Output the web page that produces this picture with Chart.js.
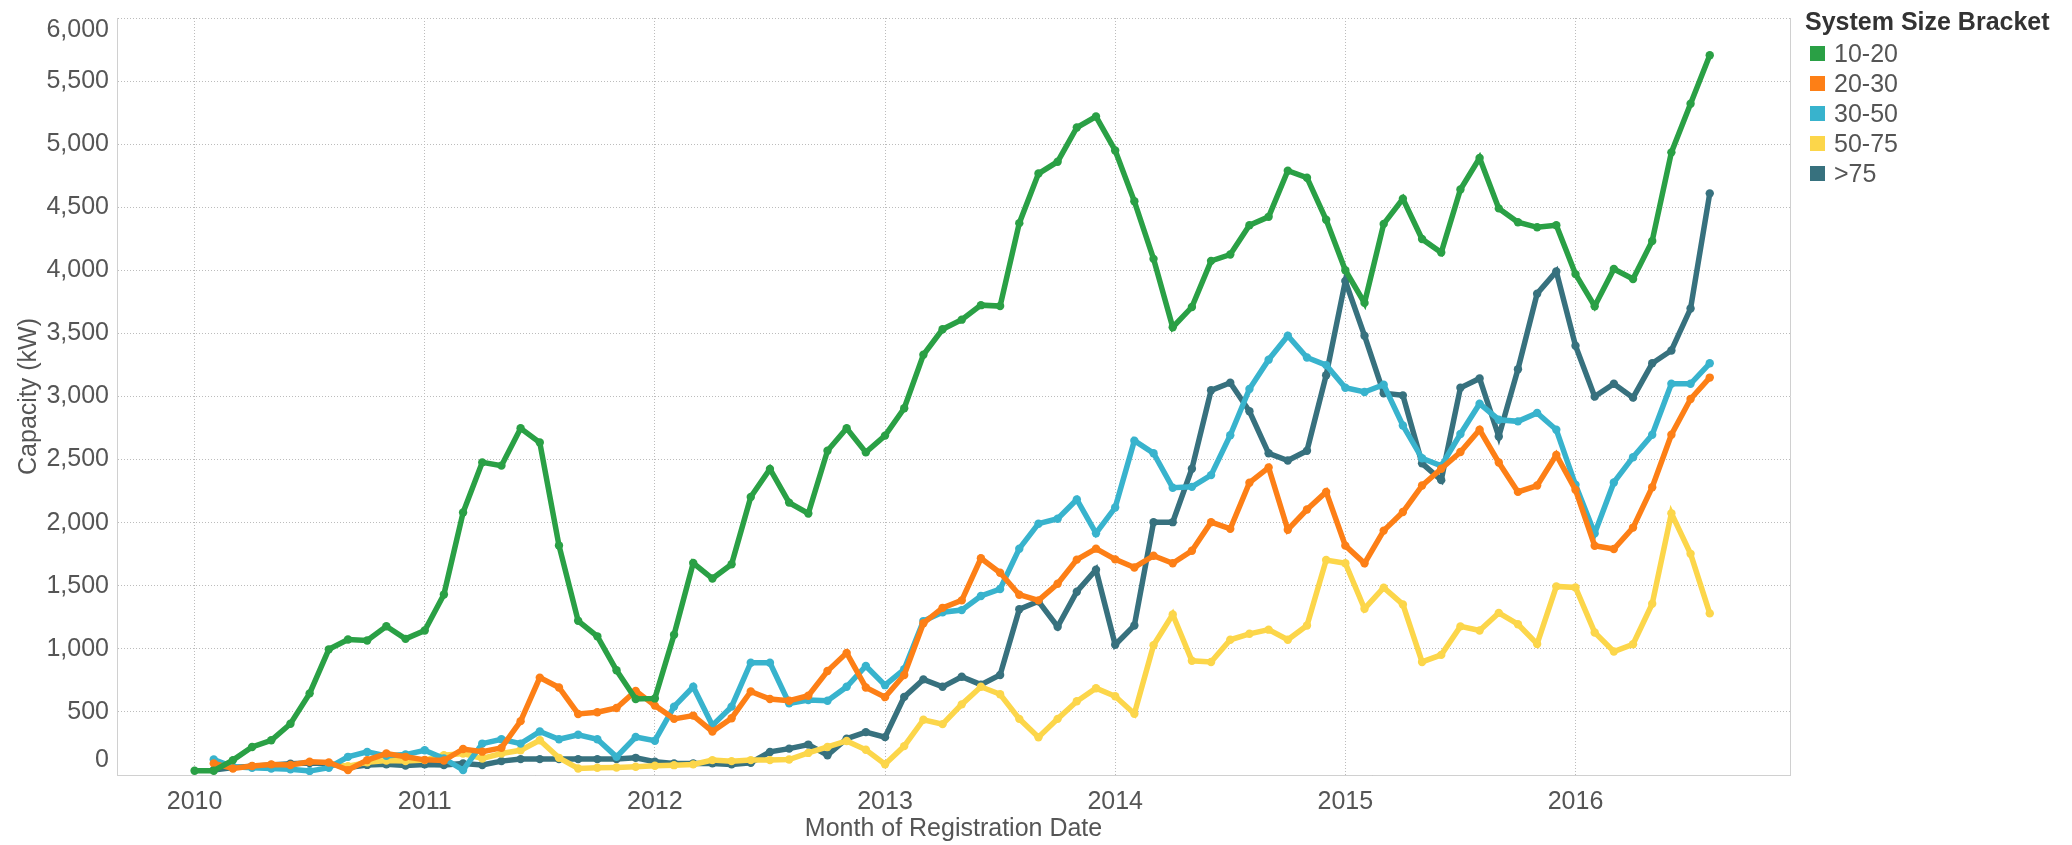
<!DOCTYPE html>
<html>
<head>
<meta charset="utf-8">
<title>Capacity by System Size Bracket</title>
<script src="https://cdn.jsdelivr.net/npm/chart.js@4.4.1/dist/chart.umd.min.js"></script>
<style>
    html, body { margin: 0; padding: 0; background: #fff; }
    #wrap { position: relative; width: 2072px; height: 845px; }
    #legend { position: absolute; left: 1805px; top: 6px; font-family: "Liberation Sans", Arial, sans-serif; color: #555; }
    #legend .title { font-weight: bold; font-size: 25px; line-height: 30px; color: #333; margin-bottom: 2px; }
    #legend .item { font-size: 25px; line-height: 30px; height: 30px; display: flex; align-items: center; }
    #legend .box { width: 15px; height: 15px; margin: 0 9px 0 5px; }
</style>
</head>
<body>
<div id="wrap">
    <canvas id="capacityChart" width="2072" height="845"></canvas>
    <div id="legend"></div>
</div>
<script>
// month of registration date, Jan 2010 .. Aug 2016
let months = [];
for (let y = 2010; y <= 2016; y++) {
    for (let m = 1; m <= 12; m++) {
        if (y === 2016 && m > 8) break;
        months.push(y + "-" + (m < 10 ? "0" + m : m));
    }
}
let yearTicks = [2010, 2011, 2012, 2013, 2014, 2015, 2016];
let brackets = ["10-20", "20-30", "30-50", "50-75", ">75"];

// capacity (kW) per month
let cap10to20 = [
    34, 34, 118, 222, 275, 406, 647, 996, 1074, 1066, 1179, 1079,
    1145, 1431, 2080, 2478, 2452, 2748, 2635, 1819, 1222, 1099, 830, 602,
    607, 1112, 1680, 1557, 1670, 2203, 2426, 2159, 2073, 2570, 2748, 2557,
    2690, 2907, 3331, 3533, 3609, 3724, 3717, 4374, 4767, 4861, 5132, 5219,
    4950, 4547, 4091, 3549, 3709, 4075, 4125, 4358, 4424, 4790, 4734, 4401,
    4001, 3742, 4368, 4567, 4248, 4141, 4641, 4890, 4491, 4381, 4341, 4358,
    3970, 3716, 4010, 3931, 4233, 4935, 5320, 5705
];
let cap20to30 = [
    null, 92, 52, 71, 84, 79, 105, 99, 39, 118, 170, 144,
    120, 115, 206, 185, 215, 427, 772, 694, 484, 497, 531, 667,
    550, 445, 471, 345, 450, 662, 602, 589, 628, 824, 968, 694,
    617, 793, 1203, 1325, 1384, 1718, 1603, 1429, 1384, 1516, 1707, 1794,
    1709, 1645, 1738, 1678, 1778, 2004, 1951, 2317, 2437, 1944, 2104, 2244,
    1818, 1678, 1937, 2084, 2294, 2427, 2560, 2736, 2477, 2244, 2294, 2537,
    2260, 1817, 1791, 1961, 2281, 2697, 2980, 3150
];
let cap30to50 = [
    null, 123, 65, 58, 52, 45, 31, 58, 144, 183, 152, 162,
    196, 131, 39, 249, 283, 249, 345, 283, 319, 283, 144, 301,
    272, 542, 699, 393, 542, 890, 890, 568, 594, 589, 699, 864,
    712, 838, 1220, 1290, 1307, 1419, 1474, 1794, 1992, 2031, 2184, 1916,
    2120, 2650, 2550, 2277, 2284, 2377, 2693, 3059, 3292, 3482, 3309, 3249,
    3069, 3036, 3093, 2770, 2510, 2450, 2703, 2943, 2816, 2803, 2870, 2736,
    2300, 1915, 2319, 2519, 2697, 3101, 3101, 3263
];
let cap50to75 = [
    null, null, null, null, null, null, null, 90, 70, 100, 115, 110,
    118, 157, 170, 131, 170, 196, 275, 136, 52, 58, 60, 65,
    73, 78, 84, 118, 110, 118, 118, 123, 175, 222, 270, 200,
    85, 229, 438, 403, 560, 699, 640, 445, 299, 445, 584, 688,
    624, 486, 1029, 1272, 905, 896, 1072, 1119, 1152, 1072, 1185, 1704,
    1678, 1318, 1485, 1352, 896, 952, 1178, 1145, 1285, 1195, 1039, 1495,
    1486, 1130, 979, 1036, 1357, 2074, 1753, 1281
];
let capOver75 = [
    null, 40, 60, 70, 80, 90, 95, 90, 60, 80, 85, 75,
    84, 79, 92, 79, 110, 126, 126, 126, 126, 126, 126, 136,
    105, 92, 92, 92, 84, 97, 183, 209, 241, 157, 288, 340,
    300, 619, 758, 699, 779, 716, 793, 1314, 1377, 1175, 1453, 1627,
    1032, 1185, 2004, 2004, 2427, 3049, 3109, 2883, 2550, 2493, 2570, 3169,
    3915, 3482, 3026, 3009, 2470, 2337, 3069, 3143, 2683, 3216, 3815, 3991,
    3402, 2999, 3101, 2991, 3263, 3365, 3697, 4610
];

let colors = ["#2aa045", "#fd7f16", "#38b3cd", "#fcd64a", "#37717e"];
let series = [cap10to20, cap20to30, cap30to50, cap50to75, capOver75];
let fontFamily = '"Liberation Sans", Arial, sans-serif';
let gridColor = "#bcbcbc";
let frameColor = "#d0d0d0";

// month string -> position on a continuous year axis
function monthPos(label) {
    let parts = label.split("-");
    return Number(parts[0]) + (Number(parts[1]) - 1) / 12;
}

let datasets = series.map((values, i) => {
    return {
        label: brackets[i],
        data: months.map((m, j) => ({ x: monthPos(m), y: values[j] })),
        borderColor: colors[i],
        backgroundColor: colors[i],
        pointBackgroundColor: colors[i],
        borderWidth: 5.5,
        pointRadius: 4.2,
        pointBorderWidth: 0,
        pointHoverRadius: 0,
        tension: 0,
        fill: false
    };
});

// right edge of the plot frame, and the end labels of the value axis pulled inside
let plotFrame = {
    id: "plotFrame",
    beforeDraw(chart) {
        let s = chart.scales.y;
        if (!s._labelItems && s._computeLabelItems) {
            s._labelItems = s._computeLabelItems(chart.chartArea);
        }
        let items = s._labelItems || [];
        if (items.length) {
            items[0].options.translation[1] -= 15;
            items[items.length - 1].options.translation[1] += 12;
        }
    },
    beforeDatasetsDraw(chart) {
        let a = chart.chartArea;
        let ctx = chart.ctx;
        ctx.save();
        ctx.strokeStyle = frameColor;
        ctx.lineWidth = 1;
        ctx.beginPath();
        ctx.moveTo(Math.round(a.right) + 0.5, a.top);
        ctx.lineTo(Math.round(a.right) + 0.5, a.bottom);
        ctx.stroke();
        ctx.restore();
    }
};

Chart.defaults.font.family = fontFamily;

let ctx = document.getElementById("capacityChart").getContext("2d");
new Chart(ctx, {
    type: "line",
    data: { datasets: datasets },
    plugins: [plotFrame],
    options: {
        responsive: false,
        animation: false,
        layout: { padding: { top: 10, right: 282, left: 0, bottom: 0 } },
        plugins: {
            legend: { display: false },
            tooltip: { enabled: false }
        },
        scales: {
            x: {
                type: "linear",
                min: 2009.663,
                max: 2016.932,
                afterBuildTicks: (scale) => {
                    scale.ticks = yearTicks.map((v) => ({ value: v }));
                },
                afterFit: (scale) => { scale.height = 70; },
                ticks: {
                    callback: (v) => String(v),
                    color: "#555",
                    font: { size: 25 },
                    padding: 12,
                    maxRotation: 0,
                    autoSkip: false
                },
                grid: { color: gridColor, lineWidth: 1, drawTicks: false },
                border: { color: frameColor, dash: [1, 2] },
                title: {
                    display: true,
                    text: "Month of Registration Date",
                    color: "#555",
                    font: { size: 25 },
                    padding: { top: 0, bottom: 1 }
                }
            },
            y: {
                min: 0,
                max: 6000,
                afterFit: (scale) => { scale.width = 117; },
                ticks: {
                    stepSize: 500,
                    callback: (v) => v.toLocaleString("en-US"),
                    color: "#555",
                    font: { size: 25, lineHeight: 0.8 },
                    padding: 8
                },
                grid: { color: gridColor, lineWidth: 1, drawTicks: false },
                border: { color: frameColor, dash: [1, 2] },
                title: {
                    display: true,
                    text: "Capacity (kW)",
                    color: "#555",
                    font: { size: 25 },
                    padding: { top: 14, bottom: 0 }
                }
            }
        }
    }
});

// legend on the right, built from the datasets
let legend = document.getElementById("legend");
let title = document.createElement("div");
title.setAttribute("class", "title");
title.textContent = "System Size Bracket";
legend.appendChild(title);
for (let i = 0; i < brackets.length; i++) {
    let item = document.createElement("div");
    item.setAttribute("class", "item");
    let box = document.createElement("span");
    box.setAttribute("class", "box");
    box.style.background = colors[i];
    let text = document.createElement("span");
    text.textContent = brackets[i];
    item.appendChild(box);
    item.appendChild(text);
    legend.appendChild(item);
}
</script>
</body>
</html>
